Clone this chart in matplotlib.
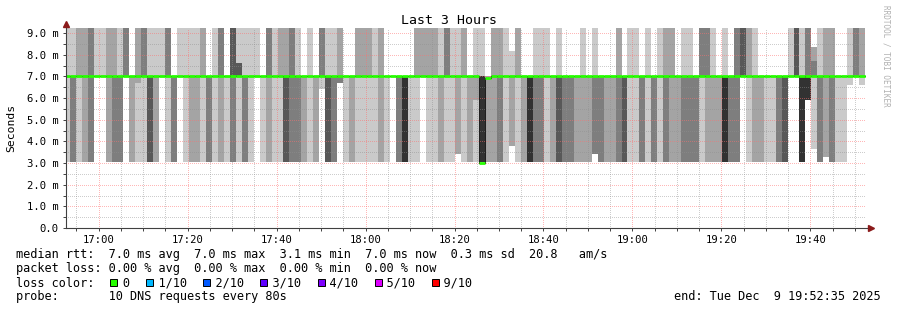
import numpy as np
import matplotlib
matplotlib.use("Agg")
import matplotlib.pyplot as plt
from matplotlib.patches import Rectangle

MONO = "DejaVu Sans Mono"

# ---- data -------------------------------------------------------------
# 3 hour window, 16:52:35 -> 19:52:35, one column per 80 s step
start_clock = 16 * 3600 + 52 * 60 + 35
span = 10800
step = 80
first_edge = 58          # first step boundary (s after start)

# number of pings (of 10) per step that came back fast (~3 ms) / very slow (off the top)
n_low = [1, 3, 1, 2, 3, 0, 0, 2, 3, 3, 0, 2, 1, 1, 4, 2, 0, 1, 3, 0,
         1, 2, 2, 1, 3, 1, 2, 1, 3, 1, 3, 1, 0, 1, 2, 1, 1, 4, 3, 3,
         2, 1, 2, 0, 4, 3, 0, 1, 2, 1, 1, 1, 1, 2, 1, 0, 3, 5, 1, 1,
         0, 1, 1, 2, 1, 1, 2, 1, 2, 1, 5, 2, 2, 3, 1, 2, 1, 2, 5, 3,
         3, 1, 2, 4, 3, 3, 2, 2, 2, 3, 3, 2, 2, 3, 4, 1, 1, 3, 1, 3,
         1, 3, 2, 2, 3, 3, 3, 1, 2, 2, 2, 5, 3, 3, 0, 1, 2, 2, 1, 1,
         3, 4, 0, 0, 5, 5, 1, 3, 2, 3, 1, 1, 1, 0, 1, 0]
n_high = [1, 1, 2, 2, 3, 1, 1, 2, 2, 1, 3, 0, 2, 3, 1, 1, 1, 3, 0, 1,
          1, 1, 1, 2, 0, 1, 3, 0, 4, 1, 1, 1, 1, 0, 3, 1, 2, 2, 3, 1,
          0, 1, 0, 3, 1, 1, 2, 0, 0, 2, 2, 2, 1, 2, 0, 0, 0, 0, 0, 2,
          2, 2, 2, 1, 3, 1, 1, 2, 0, 1, 1, 0, 2, 2, 1, 1, 2, 0, 0, 1,
          1, 1, 0, 1, 0, 0, 0, 1, 0, 1, 0, 0, 0, 2, 0, 1, 1, 0, 1, 0,
          1, 2, 2, 0, 1, 1, 0, 3, 3, 1, 0, 1, 0, 3, 4, 2, 1, 0, 0, 0,
          0, 0, 1, 4, 1, 3, 3, 1, 2, 2, 0, 0, 1, 3, 2, 0]
low_ms = 3.05
mid_ms = 7.0
high_ms = 10.0
# steps with pings in between
odd_pings = {
    12: [3.05, 6.7, 7, 7, 7, 7, 7, 7, 10, 10],
    29: [3.05, 7, 7, 7, 7, 7, 7.6, 7.6, 7.6, 10],
    43: [6.4, 7, 7, 7, 7, 7, 7, 10, 10, 10],
    46: [6.7, 6.7, 6.7, 7, 7, 7, 7, 7, 10, 10],
    66: [3.4, 3.4, 7, 7, 7, 7, 7, 7, 7, 10],
    69: [3.05, 5.9, 7, 7, 7, 7, 7, 7, 7, 10],
    75: [3.8, 3.8, 7, 7, 7, 7, 7, 7, 7, 8.2],
    89: [3.4, 3.4, 3.4, 7, 7, 7, 7, 7, 7, 10],
    125: [5.9, 5.9, 5.9, 5.9, 5.9, 7, 7, 10, 10, 10],
    126: [3.66, 7, 7, 7, 7, 7, 7, 7.7, 8.35, 8.35],
    128: [3.3, 3.3, 7, 7, 7, 7, 7, 7, 10, 10],
    132: [6.6, 7, 7, 7, 7, 7, 7, 7, 7, 10],
    134: [6.6, 7, 7, 7, 7, 7, 7, 7, 10, 10],
}
median_ms = 7.0
median_dips = {70: 3.0, 71: 6.93}

loss_labels = ["0", "1/10", "2/10", "3/10", "4/10", "5/10", "9/10"]
loss_colors = ["#26ff00", "#00b8ff", "#0059ff", "#5e00ff", "#7e00ff", "#dd00ff", "#ff0000"]
smoke_grays = ["#cacaca", "#a4a4a4", "#7e7e7e", "#585858", "#323232"]

# ---- build per step ping table ----------------------------------------
ncol = len(n_low)
pings = []
for k in range(ncol):
    if k in odd_pings:
        p = odd_pings[k]
    else:
        p = [low_ms] * n_low[k] + [mid_ms] * (10 - n_low[k] - n_high[k]) + [high_ms] * n_high[k]
    pings.append(sorted(p))
pings = np.array(pings)
med = np.array([median_dips.get(k, median_ms) for k in range(ncol)])
edges = np.concatenate([[0], first_edge + step * np.arange(ncol - 1), [span]])

# ---- figure -----------------------------------------------------------
W, H = 897, 310
fig = plt.figure(figsize=(W / 100, H / 100), dpi=100)
ax = fig.add_axes([65.7 / W, (H - 228) / H, 800.6 / W, 200 / H])

for i in range(5):
    lo = np.append(pings[:, i], pings[-1, i])
    hi = np.append(pings[:, 9 - i], pings[-1, 9 - i])
    ax.fill_between(edges, lo, hi, step="post", color=smoke_grays[i],
                    lw=0, antialiased=False, zorder=1)

ax.step(edges, np.append(med, med[-1]), where="post", color="#202020", lw=0.75, zorder=2.9)
ax.hlines(med, edges[:-1], edges[1:], colors=loss_colors[0], lw=2.0, zorder=3)

ax.set_xlim(0, span)
ax.set_ylim(0, 9.24)

# time ticks
major = [t for t in range(span + 1) if (start_clock + t) % 1200 == 0]
minor = [t for t in range(span + 1) if (start_clock + t) % 300 == 0]
ax.set_xticks(major)
ax.set_xticklabels(["%02d:%02d" % ((start_clock + t) // 3600, (start_clock + t) % 3600 // 60) for t in major])
ax.set_xticks(minor, minor=True)
yt = np.arange(0, 9.5, 1.0)
ax.set_yticks(yt)
ax.set_yticklabels(["0.0" if v == 0 else "%.1f m" % v for v in yt])
ax.set_yticks(np.arange(0.5, 9.5, 1.0), minor=True)

ax.set_axisbelow(False)
ax.grid(which="major", color="#ff7070", alpha=0.5, lw=0.72, ls=(0, (1, 1.5)), antialiased=False)
ax.grid(which="minor", color="#909090", alpha=0.45, lw=0.72, ls=(0, (1, 1.5)), antialiased=False)

for s in ax.spines.values():
    s.set_visible(False)
ax.tick_params(which="both", direction="out", length=2.2, width=0.7, color="#404040",
               labelsize=7.6, pad=3)
for lab in ax.get_xticklabels() + ax.get_yticklabels():
    lab.set_family(MONO)

# axes with arrows
ax.plot([0, 0], [0, 1.02], transform=ax.transAxes, clip_on=False, color="#404040", lw=0.8, zorder=5)
ax.plot([0, 1.005], [0, 0], transform=ax.transAxes, clip_on=False, color="#404040", lw=0.8, zorder=5)
ax.plot([0], [1.022], marker="^", ms=4, color="#8b1a1a", transform=ax.transAxes, clip_on=False, zorder=6)
ax.plot([1.006], [0], marker=">", ms=4, color="#8b1a1a", transform=ax.transAxes, clip_on=False, zorder=6)

# texts
fig.text(0.5, 1 - 20 / H, "Last 3 Hours", ha="center", va="center", family=MONO, size=9.5)
fig.text(11 / W, 1 - 128 / H, "Seconds", rotation=90, ha="center", va="center", family=MONO, size=8.2)
fig.text(886 / W, 1 - 5 / H, "RRDTOOL / TOBI OETIKER", rotation=270, ha="center", va="top",
         family=MONO, size=5.5, color="#b0b0b0")

fs = 8.575
cw = 0.602 * fs / 72 * 100     # char width in px
x0 = 16
line1 = "median rtt:  7.0 ms avg  7.0 ms max  3.1 ms min  7.0 ms now  0.3 ms sd  20.8   am/s"
line2 = "packet loss: 0.00 % avg  0.00 % max  0.00 % min  0.00 % now"
line3 = "loss color:  "
box_cols = []
for lab in loss_labels:
    box_cols.append(len(line3))
    line3 += "  " + lab + "  "
line4 = "probe:       10 DNS requests every 80s"
ys = [254.3, 268.3, 282.6, 296.6]
for txt, y in zip([line1, line2, line3.rstrip(), line4], ys):
    fig.text(x0 / W, 1 - y / H, txt, ha="left", va="center", family=MONO, size=fs)
fig.text(881 / W, 1 - ys[3] / H, "end: Tue Dec  9 19:52:35 2025", ha="right", va="center",
         family=MONO, size=fs)

bs = 7
for c, col in zip(box_cols, loss_colors):
    bx = x0 + c * cw + 0.5
    fig.add_artist(Rectangle((bx / W, 1 - (ys[2] + bs / 2) / H), bs / W, bs / H,
                             transform=fig.transFigure, facecolor=col, edgecolor="black", lw=0.7))

fig.savefig("out.png", dpi=100)
